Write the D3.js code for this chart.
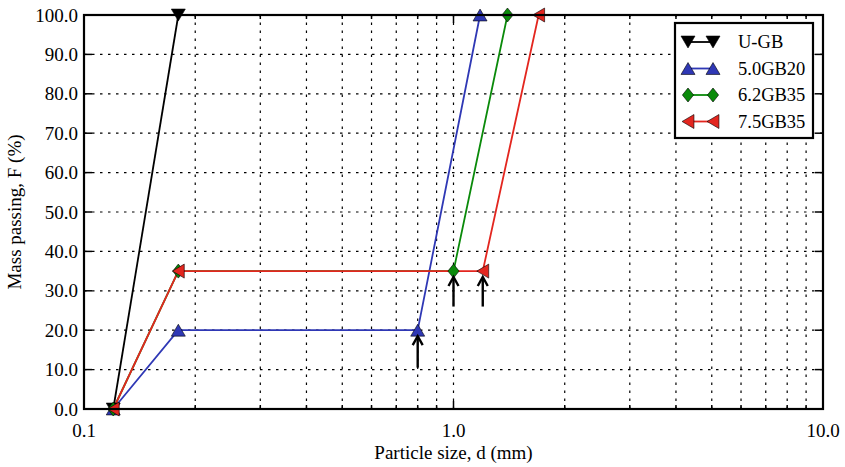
<!DOCTYPE html>
<html>
<head>
<meta charset="utf-8">
<script src="https://cdn.jsdelivr.net/npm/d3@7"></script>
<style>
  html, body { margin: 0; padding: 0; background: #fff; }
  svg { display: block; font-family: "Liberation Serif", "Times New Roman", serif; }
</style>
</head>
<body>
<svg id="chart" width="845" height="467"></svg>
<script>
// Grading curves: particle size (mm) vs mass passing (%)
const seriesNames = ["U-GB", "5.0GB20", "6.2GB35", "7.5GB35"];
const sizesUGB   = [0.12, 0.18];
const passUGB    = [0, 100];
const sizes50    = [0.12, 0.18, 0.8, 1.18];
const pass50     = [0, 20, 20, 100];
const sizes62    = [0.12, 0.18, 1.0, 1.4];
const pass62     = [0, 35, 35, 100];
const sizes75    = [0.12, 0.18, 1.2, 1.7];
const pass75     = [0, 35, 35, 100];
const seriesColors = ["#000000", "#2f38b5", "#0a8a0a", "#e3261f"];
const seriesMarkers = ["down", "up", "diamond", "left"];

// Annotation arrows: size, tail (% passing), tip (% passing)
const arrowSizes = [0.8, 1.0, 1.2];
const arrowTail  = [10.5, 26, 26];
const arrowTip   = [18.5, 33.5, 33.5];

const yTicks = [0, 10, 20, 30, 40, 50, 60, 70, 80, 90, 100];
const xMajor = [0.1, 1, 10];
const xLabels = ["0.1", "1.0", "10.0"];

const margin = { left: 84, top: 15, right: 22, bottom: 58 };
const W = 845, H = 467;
const FS = 19;
const svg = d3.select("#chart");

const x = d3.scaleLog().domain([0.1, 10]).range([margin.left, W - margin.right]);
const y = d3.scaleLinear().domain([0, 100]).range([H - margin.bottom, margin.top]);

const x0 = x.range()[0], x1 = x.range()[1];
const yb = y.range()[0], yt = y.range()[1];

// minor ticks for log axis
const xMinor = [];
[0.1, 1].forEach(d => { for (let k = 2; k <= 9; k++) xMinor.push(+(d * k).toFixed(3)); });

// grid
const grid = svg.append("g").attr("stroke", "#000").attr("stroke-width", 1.2)
  .attr("stroke-dasharray", "2.5,5.5");
grid.selectAll("line.v").data(xMinor.concat([1])).enter().append("line")
  .attr("x1", d => x(d)).attr("x2", d => x(d)).attr("y1", yb).attr("y2", yt);
grid.selectAll("line.h").data(yTicks.slice(1, -1)).enter().append("line")
  .attr("x1", x0).attr("x2", x1).attr("y1", d => y(d)).attr("y2", d => y(d));

// inward ticks on all four sides
const ticks = svg.append("g").attr("stroke", "#000").attr("stroke-width", 1.5);
yTicks.forEach(v => {
  ticks.append("line").attr("x1", x0).attr("x2", x0 + 8).attr("y1", y(v)).attr("y2", y(v));
  ticks.append("line").attr("x1", x1).attr("x2", x1 - 8).attr("y1", y(v)).attr("y2", y(v));
});
xMajor.forEach(v => {
  ticks.append("line").attr("x1", x(v)).attr("x2", x(v)).attr("y1", yb).attr("y2", yb - 8);
  ticks.append("line").attr("x1", x(v)).attr("x2", x(v)).attr("y1", yt).attr("y2", yt + 8);
});
xMinor.forEach(v => {
  ticks.append("line").attr("x1", x(v)).attr("x2", x(v)).attr("y1", yb).attr("y2", yb - 4);
  ticks.append("line").attr("x1", x(v)).attr("x2", x(v)).attr("y1", yt).attr("y2", yt + 4);
});

// tick labels
svg.append("g").selectAll("text").data(yTicks).enter().append("text")
  .attr("x", x0 - 6).attr("y", d => y(d)).attr("dy", "0.35em")
  .attr("text-anchor", "end").attr("font-size", FS).text(d => d.toFixed(1));
svg.append("g").selectAll("text").data(xMajor).enter().append("text")
  .attr("x", d => x(d)).attr("y", yb + 28)
  .attr("text-anchor", "middle").attr("font-size", FS).text((d, i) => xLabels[i]);

// axis titles
svg.append("text").attr("x", (x0 + x1) / 2).attr("y", 459)
  .attr("text-anchor", "middle").attr("font-size", FS).text("Particle size, d (mm)");
svg.append("text").attr("transform", `translate(21,${(yb + yt) / 2}) rotate(-90)`)
  .attr("text-anchor", "middle").attr("font-size", FS).text("Mass passing, F (%)");

// marker shapes
function markerPath(type, s) {
  switch (type) {
    case "down": return `M${-s},${-s * 0.85}L${s},${-s * 0.85}L0,${s * 0.85}Z`;
    case "up": return `M${-s},${s * 0.85}L${s},${s * 0.85}L0,${-s * 0.85}Z`;
    case "left": return `M${-s * 0.85},0L${s * 0.85},${-s}L${s * 0.85},${s}Z`;
    case "diamond": return `M0,${-s}L${s * 0.8},0L0,${s}L${-s * 0.8},0Z`;
  }
}

const seriesData = [
  sizesUGB.map((d, i) => [d, passUGB[i]]),
  sizes50.map((d, i) => [d, pass50[i]]),
  sizes62.map((d, i) => [d, pass62[i]]),
  sizes75.map((d, i) => [d, pass75[i]])
];

const plot = svg.append("g");
const line = d3.line().x(d => x(d[0])).y(d => y(d[1]));
seriesData.forEach((pts, i) => {
  plot.append("path").attr("d", line(pts)).attr("fill", "none")
    .attr("stroke", seriesColors[i]).attr("stroke-width", 1.8);
});
seriesData.forEach((pts, i) => {
  plot.selectAll(null).data(pts).enter().append("path")
    .attr("transform", d => `translate(${x(d[0])},${y(d[1])})`)
    .attr("d", markerPath(seriesMarkers[i], 7))
    .attr("fill", seriesColors[i]).attr("stroke", "#000").attr("stroke-width", 0.6);
});

// arrows
const arrows = svg.append("g");
arrowSizes.forEach((s, i) => {
  const ax = x(s), ty = y(arrowTip[i]), by = y(arrowTail[i]);
  arrows.append("line").attr("x1", ax).attr("x2", ax).attr("y1", by).attr("y2", ty + 2)
    .attr("stroke", "#000").attr("stroke-width", 2.4);
  arrows.append("path")
    .attr("d", `M${ax - 5},${ty + 9}L${ax},${ty}L${ax + 5},${ty + 9}`)
    .attr("fill", "none").attr("stroke", "#000").attr("stroke-width", 2.4)
    .attr("stroke-linejoin", "miter");
});

// frame
svg.append("rect").attr("x", x0).attr("y", yt).attr("width", x1 - x0).attr("height", yb - yt)
  .attr("fill", "none").attr("stroke", "#000").attr("stroke-width", 2.2);

// legend
const lg = svg.append("g").attr("transform", "translate(675,23)");
lg.append("rect").attr("width", 138).attr("height", 115)
  .attr("fill", "#fff").attr("stroke", "#000").attr("stroke-width", 2.2);
seriesNames.forEach((name, i) => {
  const ly = 19 + i * 26.5;
  lg.append("line").attr("x1", 13).attr("x2", 38).attr("y1", ly).attr("y2", ly)
    .attr("stroke", seriesColors[i]).attr("stroke-width", 1.8);
  [13, 38].forEach(mx => {
    lg.append("path").attr("transform", `translate(${mx},${ly})`)
      .attr("d", markerPath(seriesMarkers[i], 7))
      .attr("fill", seriesColors[i]).attr("stroke", "#000").attr("stroke-width", 0.6);
  });
  lg.append("text").attr("x", 63).attr("y", ly).attr("dy", "0.35em")
    .attr("font-size", 18.5).text(name);
});
</script>
</body>
</html>
